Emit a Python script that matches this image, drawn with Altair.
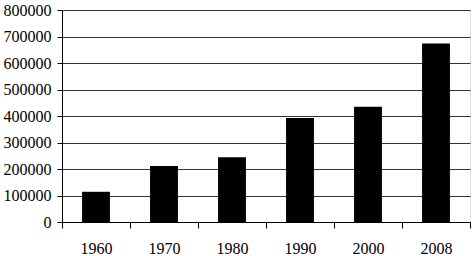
import altair as alt
import pandas as pd

years = ["1960", "1970", "1980", "1990", "2000", "2008"]
values = [114000, 211000, 244000, 392000, 435000, 674000]
y_ticks = [0, 100000, 200000, 300000, 400000, 500000, 600000, 700000, 800000]

df = pd.DataFrame({"year": years, "value": values})

FONT = "'Times New Roman', 'Liberation Serif', serif"

chart = (
    alt.Chart(df)
    .mark_bar(color="black", width=alt.RelativeBandSize(0.41))
    .encode(
        x=alt.X(
            "year:N",
            sort=years,
            title=None,
            scale=alt.Scale(paddingInner=0, paddingOuter=0),
            axis=alt.Axis(
                labelAngle=0,
                tickBand="extent",
                domainColor="black",
                tickColor="black",
                tickSize=6,
                labelPadding=12,
                labelFont=FONT,
                labelFontSize=16,
                labelColor="black",
                grid=False,
            ),
        ),
        y=alt.Y(
            "value:Q",
            title=None,
            scale=alt.Scale(domain=[0, 800000], nice=False),
            axis=alt.Axis(
                values=y_ticks,
                format="d",
                domainColor="black",
                tickColor="black",
                tickSize=5,
                labelPadding=6,
                labelFont=FONT,
                labelFontSize=16,
                labelColor="black",
                grid=True,
                gridColor="#333333",
                gridOpacity=1,
            ),
        ),
    )
    .properties(
        width=408,
        height=212,
        autosize=alt.AutoSizeParams(type="none"),
        padding={"left": 62, "top": 10, "right": 2, "bottom": 34},
    )
    .configure_view(stroke="#333333", strokeWidth=1)
    .configure(background="white")
)

chart.save("out.html", embed_options={"renderer": "svg", "actions": False})
